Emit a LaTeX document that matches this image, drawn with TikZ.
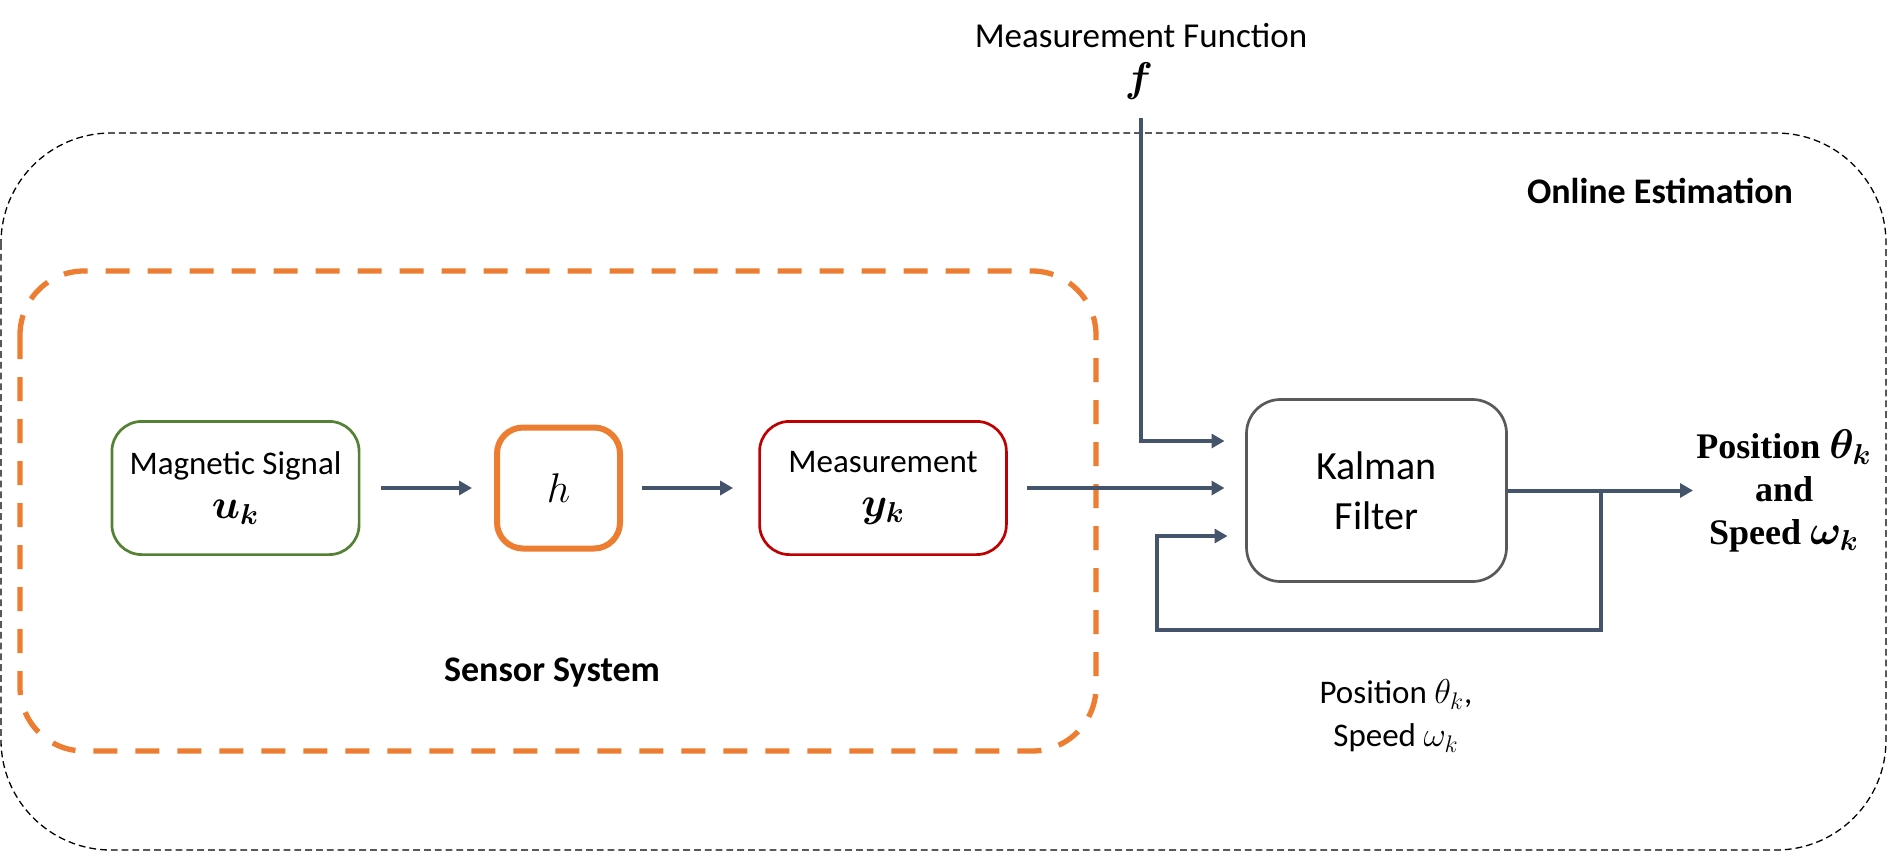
\documentclass[tikz,border=0pt]{standalone}
\usepackage{amsmath}
\usepackage{fontspec}
\setmainfont{Carlito}
\newfontfamily\serifbold{Liberation Serif}
\usetikzlibrary{arrows.meta}
\definecolor{cgreen}{HTML}{548235}
\definecolor{corange}{HTML}{ED7D31}
\definecolor{cred}{HTML}{C00000}
\definecolor{cgray}{HTML}{595959}
\definecolor{cconn}{HTML}{44546A}
\newcommand{\mymathL}[1]{{\fontsize{19.5pt}{22pt}\selectfont$#1$}}
\newcommand{\mymathM}[1]{{\fontsize{17.5pt}{22pt}\selectfont$#1$}}
\begin{document}
\begin{tikzpicture}[x=0.5pt,y=-0.5pt,
  blockbox/.style={draw, line width=1.35pt, rounded corners=15pt, align=center,
    inner sep=0pt, outer sep=0pt, font=\fontsize{16.5pt}{22pt}\selectfont},
  conn/.style={draw=cconn, line width=2pt, -{Triangle[length=6.5pt,width=7pt]}},
  lbl/.style={inner sep=0pt, outer sep=0pt, align=center},
  outerbox/.style={draw=black, line width=0.65pt, dash pattern=on 3.4pt off 2pt},
  sensorbox/.style={draw=corange, line width=2.65pt, dash pattern=on 12pt off 9pt}
]
\useasboundingbox (0,0) rectangle (1888,852);

% frames
\draw[outerbox, rounded corners=55pt] (1,133) rectangle (1886,850);
\draw[sensorbox, rounded corners=32pt] (20,271) rectangle (1096,751);

% labels of frames
\node[lbl, anchor=base, font=\fontsize{18pt}{22pt}\selectfont\bfseries] (online) at (1660,203) {Online Estimation};
\node[lbl, anchor=base, font=\fontsize{18pt}{22pt}\selectfont\bfseries] (sensor) at (552,681) {Sensor System};

% blocks
\node[blockbox, draw=cgreen, minimum width=123.6pt, minimum height=66.6pt] (mag) at (235.5,488)
  {Magnetic Signal\\\mymathL{\boldsymbol{u_k}}};
\node[blockbox, draw=corange, line width=3pt, rounded corners=13pt, minimum width=61.5pt,
  minimum height=60.5pt, font=\fontsize{21pt}{24pt}\selectfont] (hbox) at (558.5,488) {$h$};
\node[blockbox, draw=cred, minimum width=123.4pt, minimum height=66.6pt] (meas) at (883,488)
  {Measurement\\\mymathL{\boldsymbol{y_k}}};
\node[blockbox, draw=cgray, rounded corners=17pt, minimum width=130pt, minimum height=91pt,
  font=\fontsize{20pt}{25pt}\selectfont] (kal) at (1376.5,490.5) {Kalman\\Filter};

% measurement function
\node[lbl, anchor=base, font=\fontsize{17.5pt}{22pt}\selectfont] (mf) at (1141,47) {Measurement Function};
\node[lbl, anchor=base, font=\fontsize{19.5pt}{22pt}\selectfont] (fsym) at (1139,91) {$\boldsymbol{f}$};
\coordinate (fstart) at (1141,118);

% outputs
\node[lbl, font=\fontsize{18pt}{21.5pt}\serifbold\bfseries\selectfont] (outtext) at (1784,491)
  {Position \mymathL{\boldsymbol{\theta_k}}\\and\\Speed \mymathL{\boldsymbol{\omega_k}}};
\coordinate (outtip) at (1693,490.5);
\node[lbl, font=\fontsize{16.5pt}{21.5pt}\selectfont] (fbtext) at (1396,716)
  {Position \mymathM{\theta_k},\\Speed \mymathM{\omega_k}};
\coordinate (fbr) at (1601,630);
\coordinate (fbl) at (1157,630);

% connectors
\draw[conn, shorten <=10.8pt, shorten >=12.5pt] (mag.east) -- (hbox.west);
\draw[conn, shorten <=10.75pt, shorten >=13.25pt] (hbox.east) -- (meas.west);
\draw[conn, shorten <=10.25pt, shorten >=11pt] (meas.east) -- (meas.east -| kal.west);
\draw[conn, shorten >=11pt] (fstart) |- ([yshift=24.75pt]kal.west);
\draw[conn] (kal.east) -- (outtip);
\draw[conn, shorten >=9.5pt] (kal.east -| fbr) -- (fbr) -- (fbl) |- ([yshift=-22.75pt]kal.west);
\end{tikzpicture}
\end{document}
